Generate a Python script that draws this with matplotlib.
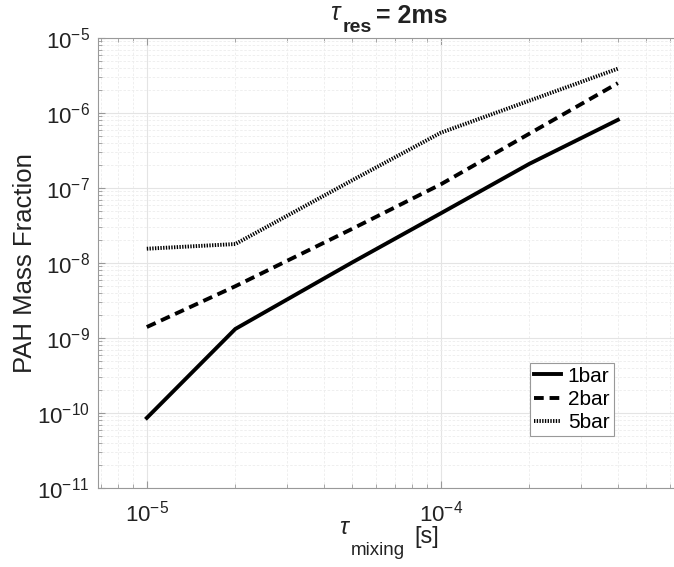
import matplotlib
matplotlib.use("Agg")
import matplotlib.pyplot as plt
from matplotlib.ticker import NullFormatter

plt.rcParams["font.family"] = ["Liberation Sans", "DejaVu Sans"]
plt.rcParams["mathtext.fontset"] = "custom"
plt.rcParams["mathtext.rm"] = "Liberation Sans"
plt.rcParams["mathtext.it"] = "Liberation Sans:italic"
plt.rcParams["mathtext.bf"] = "Liberation Sans:bold"

# mixing time [s]
tau_mix = [1e-5, 2e-5, 5e-5, 1e-4, 2e-4, 4e-4]

# PAH mass fraction at each pressure
pah_1bar = [8.6e-11, 1.32e-9, 1.02e-8, 4.6e-8, 2.1e-7, 8.1e-7]
pah_2bar = [1.40e-9, 4.9e-9, 2.86e-8, 1.12e-7, 5.3e-7, 2.5e-6]
pah_5bar = [1.55e-8, 1.79e-8, 1.27e-7, 5.46e-7, 1.46e-6, 3.9e-6]

W, H = 674, 567
fig = plt.figure(figsize=(W / 100, H / 100), dpi=100)
ax = fig.add_axes([98 / W, 1 - 488 / H, 1 - 98 / W, 450 / H])

ax.loglog(tau_mix, pah_1bar, color="k", lw=2.8, ls="-", label="1bar")
ax.loglog(tau_mix, pah_2bar, color="k", lw=2.8, dashes=(2.5, 1.5), dash_capstyle="butt", label="2bar")
ax.loglog(tau_mix, pah_5bar, color="k", lw=2.8, dashes=(0.35, 0.35), dash_capstyle="butt", label="5bar")

ax.set_xlim(10 ** -5.166, 10 ** -3.207)
ax.set_ylim(1e-11, 1e-5)
ax.xaxis.set_minor_formatter(NullFormatter())
ax.yaxis.set_minor_formatter(NullFormatter())

ax.grid(True, which="major", color="#e4e4e4", lw=0.8, ls="-")
ax.grid(True, which="minor", color="#ededed", lw=0.6, ls=(0, (3, 2)))
ax.set_axisbelow(True)

for side in ["left", "bottom", "top"]:
    ax.spines[side].set_color("#999999")
    ax.spines[side].set_linewidth(0.8)
ax.spines["right"].set_visible(False)

ax.tick_params(which="both", direction="in", top=True, right=False, colors="#999999",
               labelcolor="#222222", labelsize=16)
ax.tick_params(which="major", length=5)
ax.tick_params(which="minor", length=3)
ax.tick_params(axis="x", pad=9)
ax.tick_params(axis="y", pad=6)

ax.set_ylabel("PAH Mass Fraction", fontsize=18.5, color="#222222", labelpad=0)


def px_text(x, y, s, **kw):
    fig.text(x / W, 1 - y / H, s, va="baseline", ha="left", color="#222222", **kw)


# x label: tau_mixing [s] (MATLAB-style subscript)
px_text(339, 534, "\u03c4", fontsize=17, style="italic")
px_text(351, 555, "mixing", fontsize=13.5)
px_text(414, 543, "[s]", fontsize=17)

# title: tau_res = 2ms
px_text(330, 20, "\u03c4", fontsize=18, style="italic", fontweight="normal")
px_text(343, 32, "res", fontsize=14, fontweight="bold")
px_text(376, 23, "= 2ms", fontsize=18, fontweight="bold")

leg = ax.legend(loc="lower right", bbox_to_anchor=(0.895, 0.115), fontsize=15,
                handlelength=1.3, handletextpad=0.3, borderpad=0.2, labelspacing=0.2,
                fancybox=False, framealpha=1, borderaxespad=0)
leg.get_frame().set_edgecolor("#999999")
leg.get_frame().set_linewidth(0.8)

fig.savefig("out.png", dpi=100)
